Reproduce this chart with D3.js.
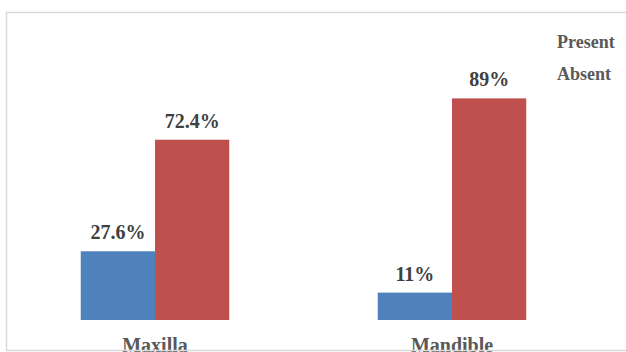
<!DOCTYPE html>
<html>
<head>
<meta charset="utf-8">
<script src="https://cdn.jsdelivr.net/npm/d3@7"></script>
<style>
html,body{margin:0;padding:0;background:#fff;}
svg{display:block;}
</style>
</head>
<body>
<script>
const categories = ["Maxilla", "Mandible"];
const seriesNames = ["Present", "Absent"];
const presentValues = [27.6, 11];
const absentValues = [72.4, 89];
const valueLabels = [["27.6%", "72.4%"], ["11%", "89%"]];
const colors = ["#4F81BD", "#C0504D"];

const W = 626, H = 352;
const svg = d3.select("body").append("svg").attr("width", W).attr("height", H);

const x0 = d3.scaleBand().domain(categories).range([6.5, 600.5]).paddingInner(0.5).paddingOuter(0.25);
const x1 = d3.scaleBand().domain(seriesNames).range([0, x0.bandwidth()]);
const y = d3.scaleLinear().domain([0, 100]).range([320, 71]);

const data = categories.map((c, i) => ({
  cat: c,
  vals: [
    {s: seriesNames[0], v: presentValues[i], label: valueLabels[i][0], color: colors[0]},
    {s: seriesNames[1], v: absentValues[i], label: valueLabels[i][1], color: colors[1]}
  ]
}));

const g = svg.selectAll("g.grp").data(data).enter().append("g")
  .attr("class", "grp")
  .attr("transform", d => `translate(${x0(d.cat)},0)`);

g.selectAll("rect").data(d => d.vals).enter().append("rect")
  .attr("x", d => x1(d.s))
  .attr("width", x1.bandwidth())
  .attr("y", d => y(d.v))
  .attr("height", d => y(0) - y(d.v))
  .attr("fill", d => d.color);

g.selectAll("text.val").data(d => d.vals).enter().append("text")
  .attr("class", "val")
  .attr("x", d => x1(d.s) + x1.bandwidth() / 2)
  .attr("y", d => y(d.v) - 12)
  .attr("text-anchor", "middle")
  .attr("font-family", "'Liberation Serif', 'Times New Roman', serif")
  .attr("font-weight", "bold")
  .attr("font-size", 20)
  .attr("fill", "#404040")
  .text(d => d.label);

// category axis labels
const xAxis = d3.axisBottom(x0).tickSize(0).tickPadding(0);
const ax = svg.append("g").attr("transform", "translate(0,352)").call(xAxis);
ax.select(".domain").remove();
ax.selectAll("text")
  .attr("dy", 0)
  .attr("y", 0)
  .attr("font-family", "'Liberation Serif', 'Times New Roman', serif")
  .attr("font-weight", "bold")
  .attr("font-size", 20)
  .attr("fill", "#595959");

// legend (text only, keys lie off-canvas)
svg.selectAll("text.leg").data(seriesNames).enter().append("text")
  .attr("class", "leg")
  .attr("x", 557)
  .attr("y", (d, i) => 48 + i * 32)
  .attr("font-family", "'Liberation Serif', 'Times New Roman', serif")
  .attr("font-weight", "bold")
  .attr("font-size", 18)
  .attr("fill", "#595959")
  .text(d => d);

// chart frame
svg.append("path")
  .attr("d", "M640,12.5 H6.5 V350.5 H640")
  .attr("fill", "none")
  .attr("stroke", "#d9d9d9")
  .attr("stroke-width", 1.5);
</script>
</body>
</html>
